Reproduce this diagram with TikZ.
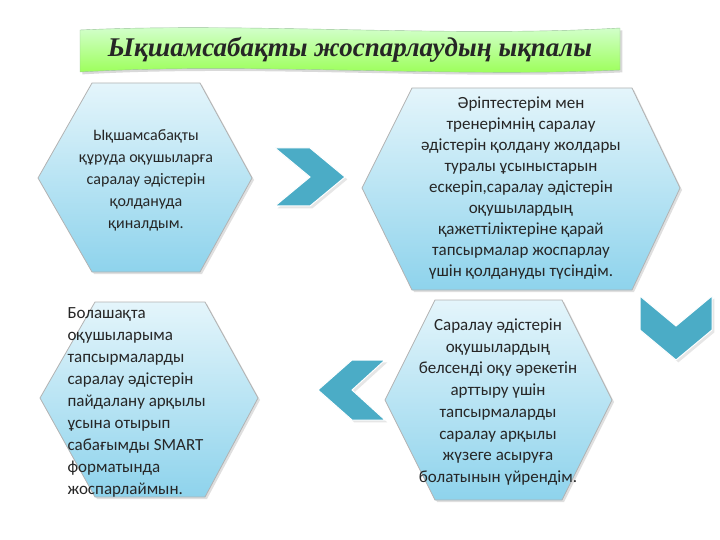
\documentclass[tikz,border=0pt]{standalone}
\usepackage{fontspec}
\usetikzlibrary{shadows}
\setmainfont{Carlito}
\newfontfamily\titlefont{Liberation Serif}
\definecolor{hexbot}{HTML}{8ED3EC}
\definecolor{hextop}{HTML}{E4F5FB}
\definecolor{chevc}{HTML}{4BACC6}
\begin{document}
\begin{tikzpicture}[x=1pt,y=-1pt,
 hexfill/.style={top color=hextop,bottom color=hexbot,draw=black!30,line width=0.8pt,drop shadow={opacity=0.25,shadow xshift=2pt,shadow yshift=-2pt}},
 chev/.style={fill=chevc,draw=white,line width=1pt,drop shadow={opacity=0.2}},
 txt/.style={font=\fontsize{17}{21.5}\selectfont,align=center,text=black!85}]
\useasboundingbox (0,0) rectangle (720,540);
% title
\draw[draw=green!40!black!40,top color=green!15!white,bottom color=green!45!lime!70!white,drop shadow={opacity=0.3}]
 (80,30) .. controls (250,22) and (450,38) .. (620,28) -- (620,70) .. controls (450,78) and (250,62) .. (80,72) -- cycle;
\node[font=\titlefont\fontsize{27}{30}\selectfont\bfseries\itshape,text=black!85] (tt) at (350,50) {Ықшамсабақты жоспарлаудың ықпалы};
% hexagons
\draw[hexfill] (38,178)--(92,83)--(200,83)--(252,178)--(200,272)--(92,272)--cycle;
\node[txt,font=\fontsize{16}{22}\selectfont] (h1) at (146,180) {Ықшамсабақты\\құруда оқушыларға\\саралау әдістерін\\қолдануда\\қиналдым.};
\draw[hexfill] (362,188)--(412,88)--(632,88)--(680,188)--(632,290)--(412,290)--cycle;
\node[txt,font=\fontsize{17}{21}\selectfont] (h2) at (521,188) {Әріптестерім мен\\тренерімнің саралау\\әдістерін қолдану жолдары\\туралы ұсыныстарын\\ескеріп,саралау әдістерін\\оқушылардың\\қажеттіліктеріне қарай\\тапсырмалар жоспарлау\\үшін қолдануды түсіндім.};
\draw[hexfill] (40,398)--(95,302)--(205,302)--(258,398)--(205,497)--(95,497)--cycle;
\node[txt,align=left,anchor=west,font=\fontsize{17}{22}\selectfont] (h3) at (64,402) {Болашақта\\оқушыларыма\\тапсырмаларды\\саралау әдістерін\\пайдалану  арқылы\\ұсына отырып\\сабағымды SMART\\форматында\\жоспарлаймын.};
\draw[hexfill] (385,400)--(435,300)--(562,300)--(612,400)--(562,500)--(435,500)--cycle;
\node[txt,font=\fontsize{17}{21.7}\selectfont] (h4) at (498,402) {Саралау әдістерін\\оқушылардың\\белсенді оқу әрекетін\\арттыру үшін\\тапсырмаларды\\саралау арқылы\\жүзеге асыруға\\болатынын үйрендім.};
% chevrons
\draw[chev] (275,148)--(310,148)--(345,177)--(310,206)--(275,206)--(310,177)--cycle;
\draw[chev] (640,296)--(676,326)--(712,296)--(712,330)--(676,360)--(640,330)--cycle;
\draw[chev] (385,360)--(352,360)--(318,390)--(352,420)--(385,420)--(352,390)--cycle;
\end{tikzpicture}
\end{document}
